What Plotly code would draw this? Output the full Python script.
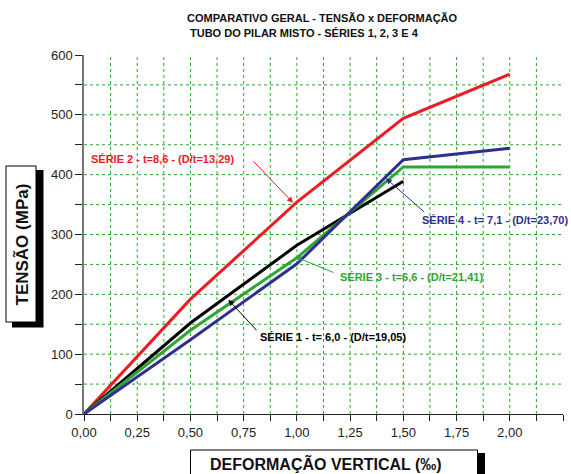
import numpy as np
import plotly.graph_objects as go

# Stress x vertical strain curves for the four test series
strain_full = [0.0, 0.5, 1.0, 1.5, 2.0]
strain_s1 = [0.0, 0.5, 1.0, 1.5]
serie1 = [0, 152, 282, 389]        # t = 6,0
serie2 = [0, 192, 354, 494, 568]   # t = 8,6
serie3 = [0, 140, 261, 413, 413]   # t = 6,6
serie4 = [0, 124, 251, 425, 444]   # t = 7,1

labels = {
    "s1": "SÉRIE 1 - t= 6,0 - (D/t=19,05)",
    "s2": "SÉRIE 2 - t=8,6 - (D/t=13,29)",
    "s3": "SÉRIE 3 - t=6,6 - (D/t=21,41)",
    "s4": "SÉRIE 4 - t= 7,1 - (D/t=23,70)",
}

RED = "#ec1c24"
BLACK = "#000000"
GREEN = "#2fa534"
NAVY = "#2e2f8f"
GRID = "#2aa82a"
FONT = "Liberation Sans, Arial, sans-serif"

W, H = 571, 474
ML, MR, MT, MB = 84, 8, 55, 60
PW, PH = W - ML - MR, H - MT - MB


def px(xp):
    return (xp - ML) / PW


def py(yp):
    return (H - MB - yp) / PH


fig = go.Figure()

series = [
    (strain_full, serie2, RED),
    (strain_s1, serie1, BLACK),
    (strain_full, serie3, GREEN),
    (strain_full, serie4, NAVY),
]
for xs, ys, col in series:
    fig.add_trace(go.Scatter(x=xs, y=ys, mode="lines",
                             line=dict(color=col, width=3),
                             showlegend=False, hoverinfo="skip"))

shapes = []
# dotted grid
for gx in np.arange(0.125, 2.25, 0.125):
    shapes.append(dict(type="line", xref="x", yref="y", x0=gx, x1=gx, y0=0, y1=600,
                       line=dict(color=GRID, width=1, dash="dot"), layer="below"))
for gy in range(50, 600, 50):
    shapes.append(dict(type="line", xref="x", yref="y", x0=0, x1=2.25, y0=gy, y1=gy,
                       line=dict(color=GRID, width=1, dash="dot"), layer="below"))

# boxed axis titles with drop shadow
shapes += [
    dict(type="rect", xref="paper", yref="paper", x0=px(12), x1=px(43.5), y0=py(327.5), y1=py(170),
         fillcolor="black", line=dict(width=0)),
    dict(type="rect", xref="paper", yref="paper", x0=px(6), x1=px(36), y0=py(322), y1=py(166),
         fillcolor="white", line=dict(color="black", width=1)),
    dict(type="rect", xref="paper", yref="paper", x0=px(196), x1=px(485), y0=py(480), y1=py(453),
         fillcolor="black", line=dict(width=0)),
    dict(type="rect", xref="paper", yref="paper", x0=px(190.5), x1=px(477.5), y0=py(480), y1=py(450),
         fillcolor="white", line=dict(color="black", width=1)),
]

annotations = [
    dict(text="<b>COMPARATIVO GERAL - TENSÃO x DEFORMAÇÃO</b>", xref="paper", yref="paper",
         x=px(185), y=py(17.5), xanchor="left", yanchor="middle", showarrow=False,
         font=dict(family=FONT, size=11, color="#111")),
    dict(text="<b>TUBO DO PILAR MISTO - SÉRIES 1, 2, 3 E 4</b>", xref="paper", yref="paper",
         x=px(188), y=py(33), xanchor="left", yanchor="middle", showarrow=False,
         font=dict(family=FONT, size=11, color="#111")),
    dict(text="<b>TENSÃO (MPa)</b>", xref="paper", yref="paper",
         x=px(21.5), y=py(244), xanchor="center", yanchor="middle", showarrow=False,
         textangle=-90, font=dict(family=FONT, size=17, color="#111")),
    dict(text="<b>DEFORMAÇÃO VERTICAL (‰)</b>", xref="paper", yref="paper",
         x=px(326), y=py(463), xanchor="center", yanchor="middle", showarrow=False,
         font=dict(family=FONT, size=16, color="#111")),
]

# series labels (x in data units, or paper fraction for the one near the right edge)
label_specs = [
    ("s2", RED, "x", 0.371, 426.5, "center"),
    ("s1", BLACK, "x", 1.171, 128.5, "center"),
    ("s3", GREEN, "x", 1.539, 229.5, "center"),
    ("s4", NAVY, "paper", px(570), 324.5, "right"),
]
for key, col, xr, lx, ly, anchor in label_specs:
    annotations.append(dict(text="<b>" + labels[key] + "</b>", x=lx, y=ly, xref=xr, yref="y",
                            xanchor=anchor, yanchor="middle", showarrow=False,
                            font=dict(family=FONT, size=11, color=col)))

# pointer arrows: (tail x, tail y) -> (head x, head y)
arrow_specs = [
    (RED, 0.790, 424.5, 0.982, 353),
    (NAVY, 1.605, 335.5, 1.418, 394),
    (GREEN, 1.179, 235.5, 0.991, 263),
    (BLACK, 0.817, 137.5, 0.678, 191),
]
for col, tx, ty, hx, hy in arrow_specs:
    annotations.append(dict(text="", x=hx, y=hy, xref="x", yref="y",
                            ax=tx, ay=ty, axref="x", ayref="y",
                            showarrow=True, arrowhead=2, arrowsize=1.2, arrowwidth=1,
                            arrowcolor=col, standoff=0, startstandoff=0))

fig.update_layout(
    width=W, height=H,
    margin=dict(l=ML, r=MR, t=MT, b=MB),
    paper_bgcolor="white", plot_bgcolor="white",
    separators=", ",
    shapes=shapes,
    annotations=annotations,
    xaxis=dict(range=[0, 2.25], dtick=0.25, tick0=0, tickformat=".2f",
               showgrid=False, zeroline=False,
               showline=True, linecolor="#222", linewidth=1.2,
               ticks="outside", ticklen=6, tickcolor="#222", tickwidth=1.2,
               minor=dict(dtick=0.125, ticks="outside", ticklen=6, tickcolor="#222", tickwidth=1.2, showgrid=False),
               tickfont=dict(family=FONT, size=13, color="#222")),
    yaxis=dict(range=[0, 600], dtick=100, tick0=0,
               showgrid=False, zeroline=False,
               showline=True, linecolor="#777", linewidth=1.5,
               ticks="outside", ticklen=7, tickcolor="#222", tickwidth=1.2,
               minor=dict(dtick=50, ticks="outside", ticklen=7, tickcolor="#222", tickwidth=1.2, showgrid=False),
               tickfont=dict(family=FONT, size=13, color="#222")),
)

fig.write_html("out.html")
